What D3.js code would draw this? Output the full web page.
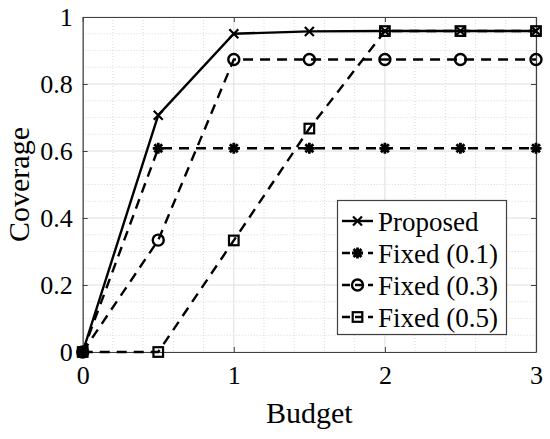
<!DOCTYPE html>
<html>
<head>
<meta charset="utf-8">
<script src="https://cdn.jsdelivr.net/npm/d3@7"></script>
<style>
body{margin:0;background:#fff;}
svg{display:block;}
</style>
</head>
<body>
<div id="chart"></div>
<script>
const budget = [0, 0.5, 1, 1.5, 2, 2.5, 3];
const proposed = [0, 0.707, 0.95, 0.957, 0.958, 0.958, 0.958];
const fixed01 = [0, 0.608, 0.608, 0.608, 0.608, 0.608, 0.608];
const fixed03 = [0, 0.334, 0.873, 0.873, 0.873, 0.873, 0.873];
const fixed05 = [0, 0, 0.333, 0.667, 0.958, 0.958, 0.958];
const seriesNames = ["Proposed", "Fixed (0.1)", "Fixed (0.3)", "Fixed (0.5)"];
const xTicks = [0, 1, 2, 3];
const yTicks = [0, 0.2, 0.4, 0.6, 0.8, 1];
const xLabel = "Budget";
const yLabel = "Coverage";

const W = 550, H = 439;
const svg = d3.select("#chart").append("svg").attr("width", W).attr("height", H);

// pick a serif face that actually renders (Times-like preferred)
function textWidth(fam, size) {
  const t = svg.append("text").attr("x", -1000).attr("y", -1000)
    .style("font-family", fam).style("font-size", size + "px").text("Proposed Fixed (0.1) 0.8 Budget");
  const w = t.node().getComputedTextLength();
  t.remove();
  return w;
}
function pickFont(size) {
  const sansW = [textWidth("Liberation Sans", size), textWidth("DejaVu Sans", size), textWidth("Noto Sans", size)];
  const cands = ["Liberation Serif", "Times New Roman", "Tinos", "Times", "Nimbus Roman", "serif", "Noto Serif", "DejaVu Serif"];
  for (const c of cands) {
    const w = textWidth(c, size);
    if (sansW.every(s => Math.abs(w - s) / s > 0.03)) return c;
  }
  return "serif";
}
const FONT_TICK = pickFont(26);
const FONT_LEG = pickFont(27);
const FONT_LAB = pickFont(30);

const m = {left: 82.7, right: W - 536, top: 17, bottom: H - 352};
const iw = W - m.left - m.right, ih = H - m.top - m.bottom;
const g = svg.append("g").attr("transform", `translate(${m.left},${m.top})`);

const x = d3.scaleLinear().domain([0, 3]).range([0, iw]);
const y = d3.scaleLinear().domain([0, 1]).range([ih, 0]);

// minor grid
const xMinor = d3.range(0, 3.0001, 0.2).filter(v => !xTicks.some(t => Math.abs(t - v) < 1e-6));
const yMinor = d3.range(0, 1.0001, 0.05).filter(v => !yTicks.some(t => Math.abs(t - v) < 1e-6));
g.append("g").selectAll("line").data(xMinor).join("line")
  .attr("x1", d => x(d)).attr("x2", d => x(d)).attr("y1", 0).attr("y2", ih)
  .attr("stroke", "#d0d0d0").attr("stroke-width", 0.8).attr("stroke-dasharray", "1,2");
g.append("g").selectAll("line").data(yMinor).join("line")
  .attr("y1", d => y(d)).attr("y2", d => y(d)).attr("x1", 0).attr("x2", iw)
  .attr("stroke", "#d0d0d0").attr("stroke-width", 0.8).attr("stroke-dasharray", "1,2");
// major grid
g.append("g").selectAll("line").data(xTicks).join("line")
  .attr("x1", d => x(d)).attr("x2", d => x(d)).attr("y1", 0).attr("y2", ih)
  .attr("stroke", "#dedede").attr("stroke-width", 1);
g.append("g").selectAll("line").data(yTicks).join("line")
  .attr("y1", d => y(d)).attr("y2", d => y(d)).attr("x1", 0).attr("x2", iw)
  .attr("stroke", "#dedede").attr("stroke-width", 1);

// axes
const axisColor = "#404040";
const xAxis = g.append("g").attr("transform", `translate(0,${ih})`)
  .call(d3.axisBottom(x).tickValues(xTicks).tickFormat(d3.format("d")).tickSizeInner(-5).tickSizeOuter(0).tickPadding(14));
const yAxis = g.append("g")
  .call(d3.axisLeft(y).tickValues(yTicks).tickFormat(d => d === 0 || d === 1 ? d3.format("d")(d) : d3.format(".1f")(d)).tickSizeInner(-5).tickSizeOuter(0).tickPadding(10));
const xTop = g.append("g").call(d3.axisTop(x).tickValues(xTicks).tickFormat("").tickSizeInner(-5).tickSizeOuter(0));
const yRight = g.append("g").attr("transform", `translate(${iw},0)`)
  .call(d3.axisRight(y).tickValues(yTicks).tickFormat("").tickSizeInner(-5).tickSizeOuter(0));
[xAxis, yAxis, xTop, yRight].forEach(a => {
  a.attr("font-family", FONT_TICK).attr("font-size", 26);
  a.select(".domain").attr("stroke", axisColor).attr("stroke-width", 1.2);
  a.selectAll(".tick line").attr("stroke", axisColor).attr("stroke-width", 1);
  a.selectAll("text").style("font-family", FONT_TICK).style("font-size", "26px").attr("fill", "#000");
});

// axis labels
svg.append("text").attr("x", m.left + iw / 2).attr("y", 423).attr("text-anchor", "middle")
  .style("font-family", FONT_LAB).style("font-size", "30px").attr("fill", "#000").text(xLabel);
svg.append("text").attr("transform", `translate(29,${m.top + ih / 2}) rotate(-90)`)
  .attr("text-anchor", "middle").style("font-family", FONT_LAB).style("font-size", "30px").attr("fill", "#000").text(yLabel);

// markers
function drawMarker(sel, type, cx, cy) {
  const s = sel.append("g").attr("transform", `translate(${cx},${cy})`)
    .attr("stroke", "#000").attr("stroke-width", 2.2).attr("fill", "none");
  if (type === "x") {
    const r = 4.5;
    s.append("path").attr("d", `M${-r},${-r}L${r},${r}M${-r},${r}L${r},${-r}`);
  } else if (type === "star") {
    const r = 5.5;
    const d = r * 0.72;
    s.attr("stroke-width", 2.8);
    s.append("path").attr("d", `M${-r},0L${r},0M0,${-r}L0,${r}M${-d},${-d}L${d},${d}M${-d},${d}L${d},${-d}`);
  } else if (type === "circle") {
    s.attr("stroke-width", 2.4);
    s.append("circle").attr("r", 5.5);
  } else if (type === "square") {
    s.append("rect").attr("x", -4.8).attr("y", -4.8).attr("width", 9.6).attr("height", 9.6);
  }
}

const series = [
  {name: seriesNames[0], values: proposed, dash: null, marker: "x"},
  {name: seriesNames[1], values: fixed01, dash: "10,7", marker: "star"},
  {name: seriesNames[2], values: fixed03, dash: "10,7", marker: "circle"},
  {name: seriesNames[3], values: fixed05, dash: "10,7", marker: "square"}
];

const line = d3.line().x((d, i) => x(budget[i])).y(d => y(d));
series.forEach(s => {
  const p = g.append("path").datum(s.values).attr("d", line)
    .attr("fill", "none").attr("stroke", "#000").attr("stroke-width", 2.4);
  if (s.dash) p.attr("stroke-dasharray", s.dash);
  const mg = g.append("g");
  s.values.forEach((v, i) => drawMarker(mg, s.marker, x(budget[i]), y(v)));
});

// legend
const lg = svg.append("g");
lg.append("rect").attr("x", 337.5).attr("y", 200.5).attr("width", 169).attr("height", 134)
  .attr("fill", "#fff").attr("stroke", axisColor).attr("stroke-width", 1.2);
series.forEach((s, i) => {
  const cy = 221 + i * 32;
  const l = lg.append("line").attr("x1", 342).attr("x2", 373).attr("y1", cy).attr("y2", cy)
    .attr("stroke", "#000").attr("stroke-width", 2.4);
  if (s.dash) l.attr("stroke-dasharray", "8,5");
  drawMarker(lg, s.marker, 357.5, cy);
  lg.append("text").attr("x", 378).attr("y", cy + 9.5)
    .style("font-family", FONT_LEG).style("font-size", "27px").attr("fill", "#000").text(s.name);
});
</script>
</body>
</html>
